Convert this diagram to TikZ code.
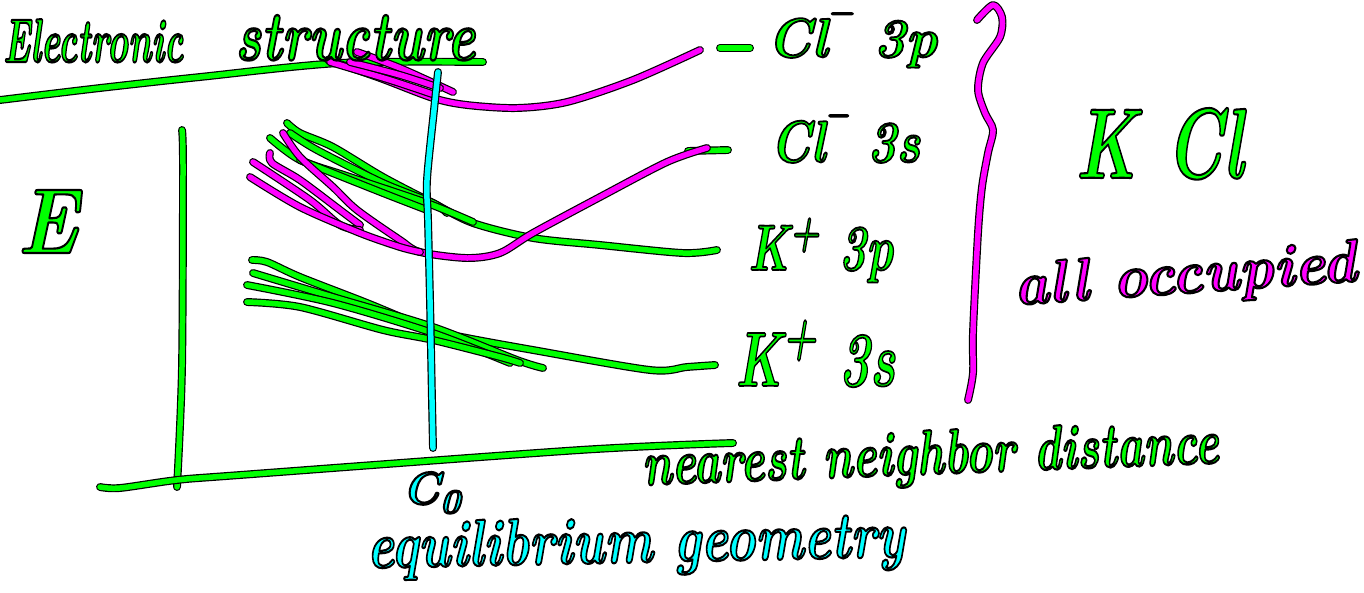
\documentclass[tikz,border=0pt]{standalone}
\usepackage{tikz}
\usepackage{graphicx}
\definecolor{inkgreen}{RGB}{0,255,0}
\definecolor{inkmag}{RGB}{255,0,255}
\definecolor{inkcyan}{RGB}{0,255,255}
% outlined hand lettering: colour, width, height, text
\newcommand{\hw}[4]{\textcolor{#1}{\fontsize{\dimexpr#3pt*3/2\relax}{\dimexpr#3pt*2\relax}\selectfont
  \resizebox{#2pt}{#3pt}{\special{pdf:literal direct q 2 Tr 2.2 w 0 G 1 j}\bfseries\itshape #4\special{pdf:literal direct Q}}}}
\makeatletter
\newcommand{\shiftup}[2]{\raisebox{#1}{\fontsize{\dimexpr\f@size pt*3/4\relax}{0pt}\selectfont #2}}
\makeatother
\tikzset{
  ink/.style={draw=black, double=#1, line width=1.2pt, double distance=5.5pt,
    line cap=round, line join=round},
  hand/.style={inner sep=0pt, anchor=base west},
}

\begin{document}
\begin{tikzpicture}[x=1pt, y=-1pt]
            \useasboundingbox (0,0) rectangle (1364,592);
            % axes and title line
            \draw[ink=inkgreen] plot[smooth] coordinates {(182,130) (183,167) (182,367) (177,487)};
            \draw[ink=inkgreen] plot[smooth] coordinates {(100,487) (120,488) (177,480) (240,475) (580,450) (733,443)};
            \draw[ink=inkgreen] plot[smooth] coordinates {(0,100) (100,88) (200,77) (340,63) (483,62)};
            % K+ 3p
            \draw[ink=inkgreen] plot[smooth] coordinates {(287,123) (300,133) (333,147) (383,177) (433,203) (473,223) (533,238) (600,245) (683,253) (717,250)};
            \draw[ink=inkgreen] plot[smooth] coordinates {(290,133) (317,150) (383,183) (433,203) (447,213)};
            \draw[ink=inkgreen] plot[smooth] coordinates {(270,138) (300,160) (350,177) (427,203) (473,222)};
            \draw[ink=inkgreen] plot[smooth] coordinates {(300,160) (383,193) (427,210)};
            % K+ 3s
            \draw[ink=inkgreen] plot[smooth] coordinates {(252,260) (267,262) (300,277) (367,303) (433,330) (467,338) (533,350) (650,370) (687,367) (715,365)};
            \draw[ink=inkgreen] plot[smooth] coordinates {(253,273) (333,297) (433,327) (517,360) (543,368)};
            \draw[ink=inkgreen] plot[smooth] coordinates {(247,285) (333,303) (433,333) (510,363)};
            \draw[ink=inkgreen] plot[smooth] coordinates {(247,302) (300,307) (383,330) (433,340) (500,357) (520,363)};
            % level ends
            \draw[ink=inkgreen] (720,48) -- (750,48);
            \draw[ink=inkgreen] (688,151) -- (728,150);
            % Cl- 3p
            \draw[ink=inkmag] plot[smooth] coordinates {(328,60) (380,78) (433,98) (467,105) (517,108) (567,102) (633,80) (700,50)};
            \draw[ink=inkmag] plot[smooth] coordinates {(357,52) (400,68) (453,92)};
            \draw[ink=inkmag] plot[smooth] coordinates {(330,62) (390,80) (435,95)};
            \draw[ink=inkmag] plot[smooth] coordinates {(350,62) (400,75) (440,88)};
            % Cl- 3s
            \draw[ink=inkmag] plot[smooth] coordinates {(283,133) (300,157) (333,187) (357,210) (400,240) (420,252) (467,258) (500,253) (533,233) (600,197) (667,162) (707,148)};
            \draw[ink=inkmag] plot[smooth] coordinates {(270,153) (272,163) (300,180) (340,210) (360,225)};
            \draw[ink=inkmag] plot[smooth] coordinates {(253,162) (310,200) (340,225) (360,230)};
            \draw[ink=inkmag] plot[smooth] coordinates {(250,177) (300,207) (360,233) (400,247) (420,252)};
            % brace
            \draw[ink=inkmag] plot[smooth] coordinates {(977,20) (993,5) (1002,17) (1000,37) (983,63) (978,90) (985,113) (993,130) (988,153) (982,187) (978,233) (973,333) (973,373) (968,400)};
            % equilibrium line
            \draw[ink=inkcyan] plot[smooth] coordinates {(438,72) (434,110) (427,180) (428,220) (430,300) (432,400) (433,448)};
            % labels
            \node[hand] (title1) at (3,62) {\hw{inkgreen}{180}{43}{Electronic}};
            \node[hand] (title2) at (235,60) {\hw{inkgreen}{240}{45}{structure}};
            \node[hand] (elabel) at (17,253) {\hw{inkgreen}{61}{63}{E}};
            \node[hand, anchor=base, rotate=2.2] (xlabel) at (931,474) {\hw{inkgreen}{577}{44}{nearest neighbor distance}};
            \node[hand] (czero) at (402,504) {\hw{inkcyan}{58}{32}{C\shiftup{-.2em}{0}}};
            \node[hand, rotate=1.2] (eqgeom) at (367,568) {\hw{inkcyan}{538}{46}{equilibrium geometry}};
            \node[hand] (cl3p) at (767,57) {\hw{inkgreen}{170}{44}{Cl\shiftup{.58em}{--}~3p}};
            \node[hand] (cl3s) at (770,162) {\hw{inkgreen}{150}{47}{Cl\shiftup{.58em}{--}~3s}};
            \node[hand] (k3p) at (748,270) {\hw{inkgreen}{145}{52}{K\shiftup{.35em}{+}~3p}};
            \node[hand] (k3s) at (735,386) {\hw{inkgreen}{160}{66}{K\shiftup{.4em}{+}~3s}};
            \node[hand] (kcl) at (1075,178) {\hw{inkgreen}{168}{70}{K~Cl}};
            \node[hand, rotate=4] (occ) at (1015,305) {\hw{inkmag}{343}{42}{all occupied}};
\end{tikzpicture}
\end{document}
